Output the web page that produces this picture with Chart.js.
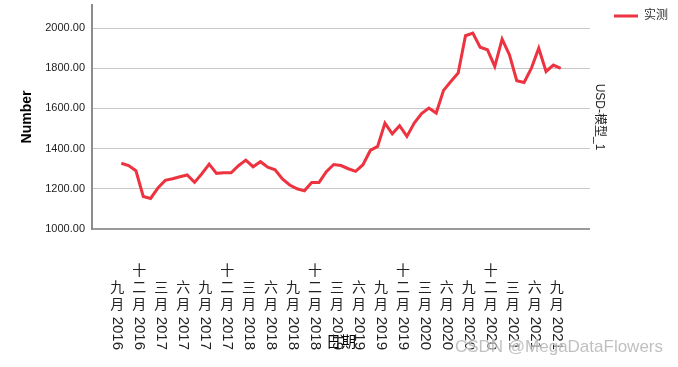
<!DOCTYPE html>
<html>
<head>
<meta charset="utf-8">
<script src="https://cdn.jsdelivr.net/npm/chart.js@4/dist/chart.umd.min.js"></script>
<style>
  html, body { margin: 0; padding: 0; background: #fff; }
  #contenedor { width: 678px; height: 367px; }
</style>
</head>
<body>
<div id="contenedor"><canvas id="grafica"></canvas></div>
<script>
// Serie mensual, de septiembre 2016 a septiembre 2021
const nombreSerie = '实测';
const valores = [
  1327, 1316, 1290, 1162, 1152, 1204, 1242, 1250, 1260, 1269, 1232, 1275,
  1323, 1277, 1280, 1280, 1315, 1343, 1310, 1335, 1308, 1295, 1249, 1219,
  1200, 1190, 1232, 1232, 1285, 1321, 1316, 1300, 1287, 1320, 1391, 1411,
  1527, 1474, 1514, 1461, 1527, 1574, 1602, 1577, 1690, 1734, 1776, 1962,
  1975, 1905, 1892, 1809, 1945, 1867, 1738, 1729, 1801, 1900, 1784, 1816,
  1799
];

// Etiquetas del eje X, una cada tres meses
const etiquetasX = [
  '九月 2016', '十二月 2016', '三月 2017', '六月 2017', '九月 2017', '十二月 2017',
  '三月 2018', '六月 2018', '九月 2018', '十二月 2018', '三月 2019', '六月 2019',
  '九月 2019', '十二月 2019', '三月 2020', '六月 2020', '九月 2020', '十二月 2020',
  '三月 2021', '六月 2021', '九月 2021'
];
const pasoEtiquetas = 3;

const tituloX = '日期';
const tituloY = 'Number';
const tituloDerecha = 'USD-模型_1';
const marcaAgua = 'CSDN @MegaDataFlowers';

const fuenteLatina = '"Liberation Sans", Arial, "Noto Sans CJK SC", sans-serif';
const fuenteCJK = '"Liberation Sans", "Noto Sans CJK SC", sans-serif';
const rojo = '#ee3340';

// Dibuja las etiquetas verticales del eje X (caracteres apilados + año girado)
const etiquetasVerticales = {
  id: 'etiquetasVerticales',
  afterDraw(chart) {
    const ctx = chart.ctx;
    const escalaX = chart.scales.x;
    const base = 350;
    ctx.save();
    ctx.fillStyle = '#222';
    etiquetasX.forEach(function (texto, k) {
      const partes = texto.split(' ');
      const x = escalaX.getPixelForValue(k * pasoEtiquetas) - 4;
      // año, girado 90 grados
      ctx.font = '15px ' + fuenteLatina;
      const ancho = ctx.measureText(partes[1]).width;
      ctx.save();
      ctx.translate(x, base);
      ctx.rotate(Math.PI / 2);
      ctx.textAlign = 'right';
      ctx.textBaseline = 'middle';
      ctx.fillText(partes[1], 0, 0);
      ctx.restore();
      // mes, un caracter por linea
      ctx.font = '14px ' + fuenteCJK;
      ctx.textAlign = 'center';
      ctx.textBaseline = 'middle';
      const chars = Array.from(partes[0]);
      let y = base - ancho - 11;
      for (let i = chars.length - 1; i >= 0; i--) {
        ctx.fillText(chars[i], x, y);
        y -= 17;
      }
    });
    ctx.restore();
  }
};

const marca = {
  id: 'marca',
  afterDraw(chart) {
    const ctx = chart.ctx;
    ctx.save();
    ctx.font = '17px ' + fuenteLatina;
    ctx.textAlign = 'right';
    ctx.textBaseline = 'middle';
    ctx.lineWidth = 2;
    ctx.strokeStyle = 'rgba(255,255,255,0.6)';
    ctx.strokeText(marcaAgua, 663, 347);
    ctx.fillStyle = 'rgba(140,140,140,0.55)';
    ctx.fillText(marcaAgua, 663, 347);
    ctx.restore();
  }
};

const ctx = document.getElementById('grafica').getContext('2d');

const miGrafica = new Chart(ctx, {
  type: 'line',
  data: {
    datasets: [{
      label: nombreSerie,
      data: valores.map(function (v, i) { return { x: i, y: v }; }),
      borderColor: rojo,
      backgroundColor: rojo,
      borderWidth: 3,
      pointRadius: 0,
      tension: 0,
      yAxisID: 'y'
    }]
  },
  options: {
    responsive: true,
    maintainAspectRatio: false,
    animation: false,
    layout: { padding: { top: 0, left: 0, right: 0, bottom: 0 } },
    plugins: {
      tooltip: { enabled: false },
      legend: {
        position: 'right',
        align: 'start',
        labels: {
          usePointStyle: true,
          pointStyle: 'line',
          pointStyleWidth: 24,
          color: '#333',
          padding: 10,
          font: { size: 12, family: fuenteCJK }
        }
      }
    },
    scales: {
      x: {
        type: 'linear',
        min: -4,
        max: 64,
        ticks: { display: false },
        grid: { display: false, drawTicks: false },
        border: { display: true, color: '#9a9a9a', width: 2 },
        title: {
          display: true,
          text: tituloX,
          color: '#000',
          font: { size: 15, family: fuenteCJK },
          padding: { top: 105, bottom: 15 }
        },
        afterFit: function (escala) { escala.height = 138; }
      },
      y: {
        type: 'linear',
        position: 'left',
        min: 1000,
        max: 2115,
        ticks: {
          stepSize: 200,
          includeBounds: false,
          padding: 7,
          color: '#222',
          font: { size: 11, family: fuenteLatina },
          callback: function (v) { return v.toFixed(2); }
        },
        grid: { color: '#c8c8c8', lineWidth: 1, drawTicks: false },
        border: { display: true, color: '#8c8c8c', width: 2 },
        title: {
          display: true,
          text: tituloY,
          color: '#000',
          font: { size: 14, weight: 'bold', family: fuenteLatina },
          padding: { top: 19, bottom: 0 }
        },
        afterFit: function (escala) {
          escala.width = 92;
          escala.paddingTop = 5;
          escala.paddingBottom = 0;
        }
      },
      y2: {
        type: 'linear',
        position: 'right',
        min: 1000,
        max: 2115,
        ticks: { display: false },
        grid: { display: false, drawTicks: false },
        border: { display: false },
        title: {
          display: true,
          text: tituloDerecha,
          color: '#222',
          font: { size: 12, family: fuenteCJK },
          padding: { top: -3, bottom: 0 }
        },
        afterFit: function (escala) {
          escala.width = 14;
          escala.paddingTop = 5;
          escala.paddingBottom = 0;
        }
      }
    }
  },
  plugins: [etiquetasVerticales, marca]
});
</script>
</body>
</html>
